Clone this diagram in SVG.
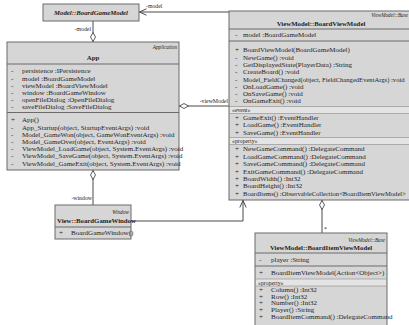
<svg xmlns="http://www.w3.org/2000/svg" width="409" height="325" viewBox="0 0 409 325">
  <style>
    .box{fill:#d6d6d6;stroke:#6b6b6b;stroke-width:1}
    .sep{stroke:#6b6b6b;stroke-width:1}
    .band{fill:#e4e4e4;stroke:#8a8a8a;stroke-width:0.6}
    text{font-family:"Liberation Serif","Times New Roman",serif;fill:#1e1e1e}
    .m{font-size:7px}
    .m .long{font-size:6.6px}
    .t{font-size:6.8px;font-weight:bold}
    .st{font-size:5.2px;font-style:italic}
    .lbl{font-size:5.8px}
    .e{text-anchor:end}
    .c{text-anchor:middle}
    .conn{stroke:#4a4a4a;stroke-width:1;fill:none}
  </style>
  <defs>
    <marker id="diamond" markerUnits="userSpaceOnUse" viewBox="0 0 10 6" refX="0" refY="3" markerWidth="10" markerHeight="6" orient="auto">
      <path d="M0.5,3 L5,0.5 L9.5,3 L5,5.5 Z" fill="#ffffff" stroke="#4a4a4a" stroke-width="0.9"/>
    </marker>
    <marker id="arrow" markerUnits="userSpaceOnUse" viewBox="0 0 8 8" refX="8" refY="4" markerWidth="8" markerHeight="8" orient="auto">
      <path d="M0.5,0.8 L7.6,4 L0.5,7.2" fill="none" stroke="#4a4a4a" stroke-width="1"/>
    </marker>
  </defs>

  <!-- associations -->
  <g id="connectors">
    <path class="conn" d="M229,12 H139" marker-end="url(#arrow)"/>
    <path class="conn" d="M93,42 V21" marker-start="url(#diamond)"/>
    <path class="conn" d="M179,106 H229" marker-start="url(#diamond)"/>
    <path class="conn" d="M93,170 V205" marker-start="url(#diamond)"/>
    <path class="conn" d="M131,221 H243 V200" marker-end="url(#arrow)"/>
    <path class="conn" d="M322,200 V233" marker-start="url(#diamond)"/>
    <text class="lbl" x="146" y="8">-model</text>
    <text class="lbl e" x="91" y="31">-model</text>
    <rect x="196" y="97" width="32" height="8" fill="#ffffff"/>
    <text class="lbl e" x="228" y="103">-viewModel</text>
    <text class="lbl e" x="92" y="200">-window</text>
    <text class="lbl" x="324" y="231">*</text>
  </g>

  <!-- Model::BoardGameModel -->
  <g id="BoardGameModel">
    <rect class="box" x="43" y="4" width="96" height="17"/>
    <text class="c" x="91" y="15.3" style="font-size:6.8px;font-weight:bold;font-style:italic">Model::BoardGameModel</text>
  </g>

  <!-- App -->
  <g id="App">
    <rect class="box" x="7" y="42" width="172" height="128"/>
    <text class="st e" x="177" y="49">Application</text>
    <text class="t c" x="93" y="60">App</text>
    <line class="sep" x1="7" y1="64" x2="179" y2="64"/>
    <g class="m">
      <text x="11" y="73.3">-</text><text x="22" y="73.3">persistence :IPersistence</text>
      <text x="11" y="80.5">-</text><text x="22" y="80.5">model :BoardGameModel</text>
      <text x="11" y="87.7">-</text><text x="22" y="87.7">viewModel :BoardViewModel</text>
      <text x="11" y="94.9">-</text><text x="22" y="94.9">window :BoardGameWindow</text>
      <text x="11" y="102.1">-</text><text x="22" y="102.1">openFileDialog :OpenFileDialog</text>
      <text x="11" y="109.3">-</text><text x="22" y="109.3">saveFileDialog :SaveFileDialog</text>
    </g>
    <line class="sep" x1="7" y1="112.5" x2="179" y2="112.5"/>
    <g class="m">
      <text x="11" y="122.3">+</text><text x="22" y="122.3">App()</text>
      <text x="11" y="129.5">-</text><text x="22" y="129.5">App_Startup(object, StartupEventArgs) :void</text>
      <text x="11" y="136.7">-</text><text x="22" y="136.7">Model_GameWon(object, GameWonEventArgs) :void</text>
      <text x="11" y="143.9">-</text><text x="22" y="143.9">Model_GameOver(object, EventArgs) :void</text>
      <text x="11" y="151.1">-</text><text x="22" y="151.1">ViewModel_LoadGame(object, System.EventArgs) :void</text>
      <text x="11" y="158.3">-</text><text x="22" y="158.3">ViewModel_SaveGame(object, System.EventArgs) :void</text>
      <text x="11" y="165.5">-</text><text x="22" y="165.5">ViewModel_GameExit(object, System.EventArgs) :void</text>
    </g>
  </g>

  <!-- View::BoardGameWindow -->
  <g id="BoardGameWindow">
    <rect class="box" x="55" y="205" width="76" height="34"/>
    <text class="st e" x="129" y="213.8">Window</text>
    <text class="t" x="57" y="223.3">View::BoardGameWindow</text>
    <line class="sep" x1="55" y1="227" x2="131" y2="227"/>
    <text class="m" x="59" y="235.3">+</text>
    <text class="m" x="71" y="235.3">BoardGameWindow()</text>
  </g>

  <!-- ViewModel::BoardViewModel -->
  <g id="BoardViewModel">
    <rect class="box" x="229" y="11" width="185" height="189"/>
    <text class="st e" x="408" y="16.8">ViewModel::Base</text>
    <text class="t c" x="321" y="26.3">ViewModel::BoardViewModel</text>
    <line class="sep" x1="229" y1="29" x2="414" y2="29"/>
    <text class="m" x="235" y="37.3">-</text><text class="m" x="243" y="37.3">model :BoardGameModel</text>
    <line class="sep" x1="229" y1="41" x2="414" y2="41"/>
    <g class="m">
      <text x="235" y="52.3">+</text><text x="243" y="52.3">BoardViewModel(BoardGameModel)</text>
      <text x="235" y="59.6">-</text><text x="243" y="59.6">NewGame() :void</text>
      <text x="235" y="66.9">-</text><text x="243" y="66.9">GetDisplayedState(PlayerData) :String</text>
      <text x="235" y="74.2">-</text><text x="243" y="74.2">CreateBoard() :void</text>
      <text x="235" y="81.5">-</text><text class="long" x="243" y="81.5">Model_FieldChanged(object, FieldChangedEventArgs) :void</text>
      <text x="235" y="88.8">-</text><text x="243" y="88.8">OnLoadGame() :void</text>
      <text x="235" y="96.1">-</text><text x="243" y="96.1">OnSaveGame() :void</text>
      <text x="235" y="103.4">-</text><text x="243" y="103.4">OnGameExit() :void</text>
    </g>
    <rect class="band" x="229.5" y="106.5" width="184" height="7"/>
    <text class="lbl" x="232" y="112">«event»</text>
    <g class="m">
      <text x="235" y="120">+</text><text x="243" y="120">GameExit() :EventHandler</text>
      <text x="235" y="127.3">+</text><text x="243" y="127.3">LoadGame() :EventHandler</text>
      <text x="235" y="134.6">+</text><text x="243" y="134.6">SaveGame() :EventHandler</text>
    </g>
    <rect class="band" x="229.5" y="137.5" width="184" height="7"/>
    <text class="lbl" x="232" y="143">«property»</text>
    <g class="m">
      <text x="235" y="151.3">+</text><text x="243" y="151.3">NewGameCommand() :DelegateCommand</text>
      <text x="235" y="158.7">+</text><text x="243" y="158.7">LoadGameCommand() :DelegateCommand</text>
      <text x="235" y="166.1">+</text><text x="243" y="166.1">SaveGameCommand() :DelegateCommand</text>
      <text x="235" y="173.5">+</text><text x="243" y="173.5">ExitGameCommand() :DelegateCommand</text>
      <text x="235" y="180.9">+</text><text x="243" y="180.9">BoardWidth() :Int32</text>
      <text x="235" y="188.3">+</text><text x="243" y="188.3">BoardHeight() :Int32</text>
      <text x="235" y="195.7">+</text><text class="long" x="243" y="195.7">BoardItems() :ObservableCollection&lt;BoardItemViewModel&gt;</text>
    </g>
  </g>

  <!-- ViewModel::BoardItemViewModel -->
  <g id="BoardItemViewModel">
    <rect class="box" x="255" y="233" width="132" height="100"/>
    <text class="st e" x="385" y="241.8">ViewModel::Base</text>
    <text class="t c" x="321" y="250.3">ViewModel::BoardItemViewModel</text>
    <line class="sep" x1="255" y1="253" x2="387" y2="253"/>
    <text class="m" x="259" y="262.3">-</text><text class="m" x="271" y="262.3">player :String</text>
    <line class="sep" x1="255" y1="266" x2="387" y2="266"/>
    <text class="m" x="259" y="275.3">+</text><text class="m" x="271" y="275.3">BoardItemViewModel(Action&lt;Object&gt;)</text>
    <rect class="band" x="255.5" y="279" width="131" height="7"/>
    <text class="lbl" x="258" y="284.5">«property»</text>
    <g class="m">
      <text x="259" y="291.8">+</text><text x="271" y="291.8">Column() :Int32</text>
      <text x="259" y="298.6">+</text><text x="271" y="298.6">Row() :Int32</text>
      <text x="259" y="305.4">+</text><text x="271" y="305.4">Number() :Int32</text>
      <text x="259" y="312.2">+</text><text x="271" y="312.2">Player() :String</text>
      <text x="259" y="319">+</text><text x="271" y="319">BoardItemCommand() :DelegateCommand</text>
    </g>
  </g>
</svg>
